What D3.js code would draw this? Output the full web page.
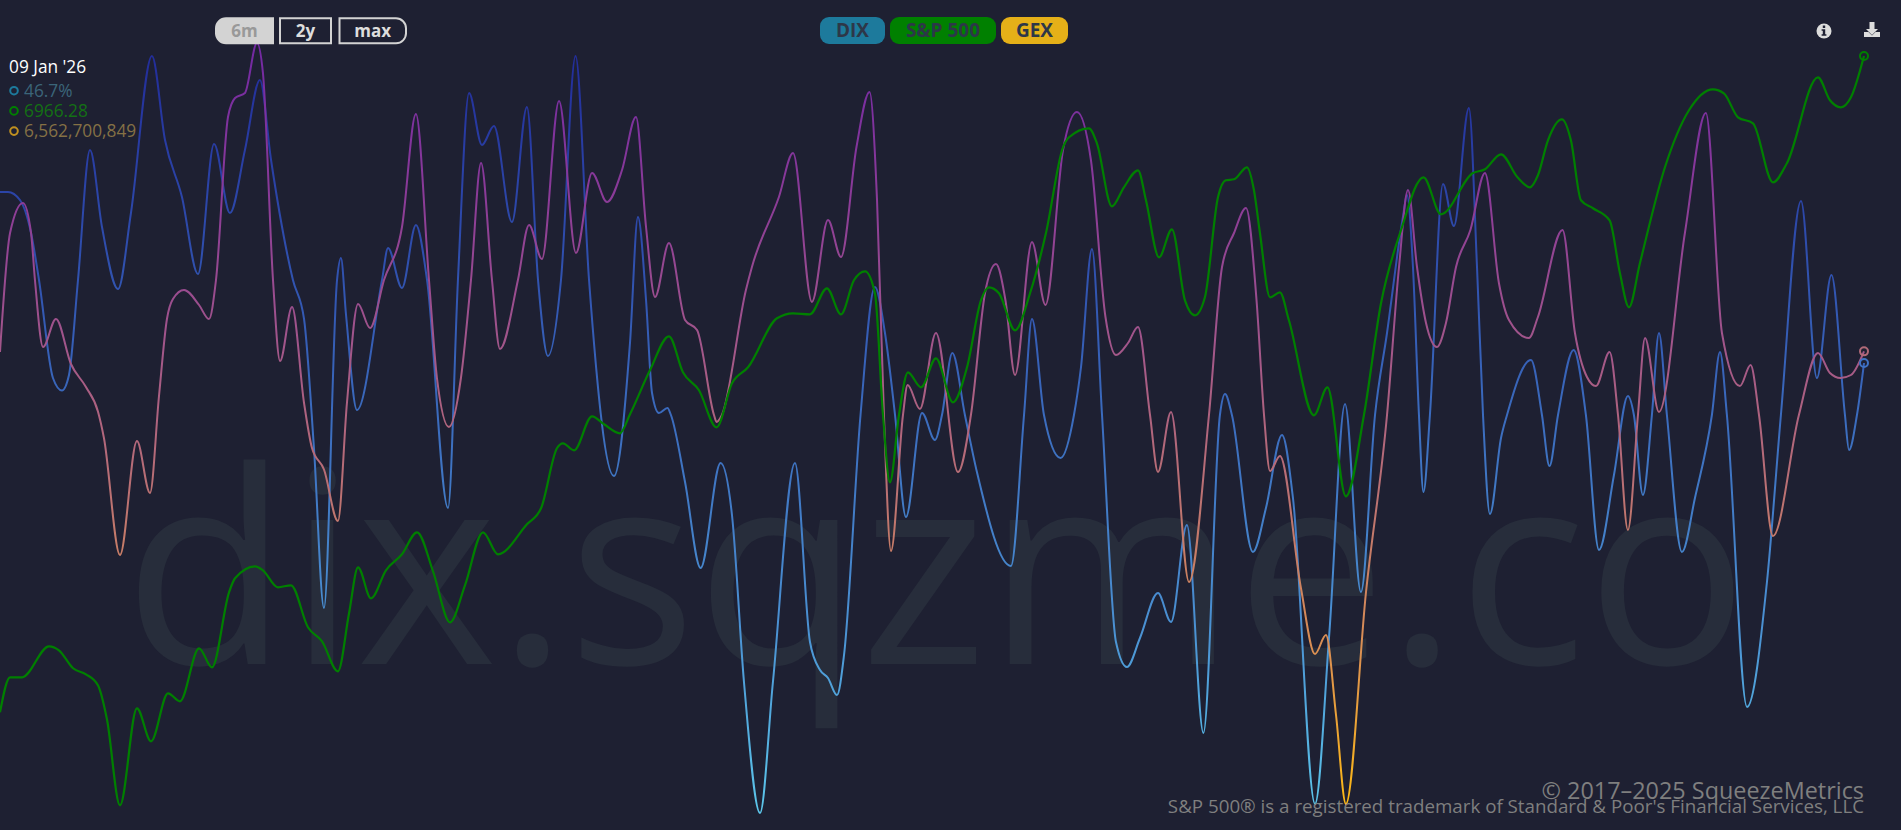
<!DOCTYPE html>
<html><head><meta charset="utf-8">
<script src="https://cdn.jsdelivr.net/npm/d3@7"></script>
<style>
html,body{margin:0;padding:0;background:#1e2032;overflow:hidden}
svg{display:block;font-family:"Open Sans",sans-serif}
</style></head><body><div id="chart"></div>
<script>
// [trading session since start of window, value]
const spx=[[0,6310],[.67,6345],[1.47,6345],[3.27,6376],[3.93,6372],[4.87,6354],[5.73,6348],[6.53,6337],[7.13,6303],[8,6217],[9.13,6314],[10.07,6281],[11.2,6329],[12,6321],[13.27,6374],[14.13,6355],[15.27,6430],[15.67,6444],[17,6456],[17.53,6452],[18.53,6435],[19.4,6437],[20.53,6395],[21.47,6381],[22.53,6351],[23.27,6409],[23.87,6455],[24.73,6424],[25.73,6452],[26.8,6468],[27.8,6490],[28.87,6451],[30,6400],[31,6437],[32.2,6490],[33.2,6468],[35.13,6498],[36.07,6514],[37.13,6574],[37.53,6579],[38.27,6572],[39.47,6606],[40.27,6598],[41.33,6589],[42,6608],[43.33,6652],[44.6,6686],[45.53,6650],[46.6,6632],[47.77,6595],[48.8,6639],[49.87,6655],[51.8,6704],[52.87,6709],[54,6708],[55.13,6734],[56.07,6708],[56.93,6742],[57.67,6751],[58.33,6729],[58.87,6607],[59.33,6540],[59.93,6607],[60.53,6650],[61.4,6635],[62.4,6664],[63.53,6620],[64.47,6655],[65.4,6722],[65.93,6735],[66.6,6729],[67.67,6692],[68.67,6729],[69.73,6789],[70.87,6875],[71.27,6885],[72.6,6894],[73.13,6879],[74.13,6816],[74.93,6835],[75.87,6852],[76.4,6822],[77.27,6765],[78.13,6793],[79,6722],[79.67,6707],[80.33,6725],[81.2,6825],[81.73,6842],[82.27,6843],[83.13,6855],[83.6,6832],[84,6789],[84.67,6725],[85.33,6730],[85.93,6702],[87.6,6607],[88.5,6635],[89.73,6526],[90.93,6607],[92.07,6719],[93.4,6792],[94.9,6845],[96.07,6808],[98.17,6849],[99,6853],[100.07,6868],[101.17,6845],[102,6835],[102.53,6847],[103.2,6882],[104.13,6903],[104.73,6882],[105.4,6822],[106.2,6814],[107.31,6802],[108,6749],[108.6,6715],[109.33,6759],[111,6855],[112.6,6912],[114.2,6933],[114.93,6929],[115.87,6905],[116.87,6899],[118.2,6840],[119.13,6859],[121.2,6945],[122,6922],[122.73,6915],[123.4,6925],[124.27,6966.28]];
const gex=[[0,6.55],[.67,8.93],[1.53,9.53],[2.07,8.93],[2.33,7.99],[2.87,6.65],[3.73,7.21],[4.73,6.31],[5.73,5.85],[6.53,5.36],[6.93,4.83],[8,2.49],[9.13,4.77],[10,3.73],[10.6,5.67],[11.13,7.21],[11.53,7.61],[12.27,7.79],[13.27,7.49],[13.93,7.21],[14.4,7.99],[15.2,11.25],[15.67,11.63],[16.33,11.73],[17.13,12.73],[17.53,12.13],[18.2,7.99],[18.67,6.37],[19.47,7.45],[20.27,5.53],[20.8,4.63],[21.6,4.2],[22.53,3.17],[23.13,5.53],[23.87,7.51],[24.67,7.03],[25.6,7.99],[26.8,9.05],[27.73,11.31],[28.6,7.99],[29.13,6.03],[29.93,5.05],[30.73,6.03],[31.4,7.99],[32.07,10.33],[32.8,7.99],[33.33,6.61],[34.53,7.99],[35.27,9.09],[36.13,8.41],[37.27,11.57],[38.4,8.53],[39.47,10.13],[40.47,9.55],[41.47,10.19],[42.4,11.25],[43.07,9.05],[43.67,7.65],[44.6,8.73],[45.67,7.19],[46.47,6.99],[47.6,5.29],[47.77,5.15],[48.13,5.29],[49.73,7.79],[50.13,8.25],[51.93,9.65],[52.87,10.53],[54.13,7.55],[55.2,9.19],[56.07,8.45],[57.1,10.65],[57.97,11.75],[58.47,9.59],[58.93,5.29],[59.4,2.57],[60.2,5.29],[60.51,5.89],[61.33,5.41],[62.4,6.93],[63.87,4.15],[64.73,5.29],[65.67,7.73],[66.4,8.31],[67.03,7.59],[67.67,6.09],[68.8,8.75],[69.7,7.49],[70.87,10.59],[71.8,11.35],[72.73,10.39],[73.7,7.25],[74.4,6.49],[75.2,6.73],[75.87,7.05],[76.67,5.29],[77.2,4.15],[78.07,5.35],[79.27,1.95],[80.6,5.29],[81.47,8.25],[82.27,8.93],[83.07,9.43],[83.77,7.59],[84.27,5.29],[84.67,4.17],[85.33,4.47],[86.73,1.83],[87.67,.51],[88.4,.89],[89.07,-.71],[89.73,-2.49],[91.07,1.75],[92.47,5.29],[93.27,8.25],[93.87,9.79],[94.47,8.25],[95.07,7.13],[95.8,6.65],[96.4,7.13],[97.07,8.25],[98.03,8.99],[99,10.13],[99.93,7.93],[100.6,7.19],[101.93,6.83],[102.53,7.25],[104.17,8.99],[105,6.93],[105.8,6.05],[106.4,5.87],[107.31,6.55],[107.87,5.29],[108.53,2.99],[109.2,5.29],[109.67,6.83],[110.6,5.35],[112.33,8.93],[113.73,11.33],[114.8,6.93],[116,5.87],[116.71,6.29],[117.27,5.29],[118.2,2.87],[119.93,5.29],[121.2,6.53],[122,6.13],[122.7,6.03],[123.4,6.09],[124.27,6.5627]];
const dix=[[0,50.12],[.53,50.12],[1.33,49.96],[2.07,49.3],[2.6,48.36],[3.53,46.4],[4.13,46.15],[4.6,46.46],[5.2,48.36],[6,50.96],[6.8,49.42],[7.87,48.18],[8.73,49.7],[10.13,52.84],[11,51.16],[12.13,50.02],[13.2,48.48],[14.27,51.08],[15.33,49.7],[16.33,50.96],[17.33,52.36],[18.07,50.76],[19.53,48.36],[20.27,47.58],[20.93,45],[21.6,41.8],[22.47,48.36],[22.73,48.8],[23.07,47.66],[23.8,45.76],[25.47,48.36],[25.87,49],[26.8,48.2],[27.73,49.46],[28.47,48.36],[29.87,43.8],[30.53,48.36],[31.27,52.1],[32.13,51.06],[32.93,51.44],[34.13,49.52],[35.13,51.82],[35.87,48.36],[36.53,46.84],[37.4,48.36],[38.37,52.84],[39.27,48.36],[40.93,44.44],[42,47.1],[42.53,49.62],[43.07,47.96],[43.47,46.1],[43.93,45.7],[44.5,45.8],[44.73,45.66],[45.67,44.32],[46.71,42.6],[48.04,44.7],[48.8,43.66],[49.6,40.32],[50.67,37.7],[51.53,40.32],[53,44.7],[54,41.12],[54.67,40.56],[55.2,40.4],[55.8,40.06],[56.27,40.86],[57.37,45.66],[58.33,48.22],[59,47.3],[59.67,45.66],[60.4,43.62],[61.47,45.7],[62.33,45.16],[62.8,45.66],[63.49,46.9],[64.33,45.66],[65.13,44.52],[67.4,42.64],[68.27,45.66],[68.8,47.58],[69.6,45.66],[70.71,44.8],[71.6,45.66],[72.07,46.62],[72.8,48.98],[73.47,45.66],[74.4,41.12],[75.13,40.62],[76,41.2],[77.2,42.1],[78.07,41.52],[79.13,43.46],[80.23,39.3],[81.33,45.66],[81.67,46.08],[82.13,45.66],[83.53,42.92],[84.4,43.8],[85.47,45.26],[86.2,44],[87.67,37.88],[88.63,41.32],[89.67,45.88],[90.73,42.12],[91.67,45.66],[92.47,47.3],[93.53,49.62],[93.8,50.06],[94.2,48.62],[94.6,45.66],[94.9,44.12],[95.33,45.66],[96.2,50.28],[96.93,49.44],[97.93,51.8],[98.47,48.62],[98.87,45.66],[99.33,43.68],[100.07,45.2],[100.47,45.66],[102.07,46.76],[102.8,45.66],[103.3,44.64],[103.87,45.66],[104.91,46.96],[105.73,45.66],[106.6,42.96],[107.6,44.46],[108.53,46.04],[108.93,45.66],[109.53,44.06],[110.13,45.66],[110.6,47.3],[111.13,45.66],[112.13,42.92],[113,44],[114.13,45.66],[114.67,46.92],[115.13,45.66],[116.47,39.82],[117.8,42.32],[118.73,45.66],[120.07,49.94],[121.13,46.4],[122.1,48.46],[123,45.66],[123.27,44.96],[123.8,45.66],[124.27,46.7]];
const rangeLabels=["6m","2y","max"];
const seriesLabels=["DIX","S&P 500","GEX"];
const readoutDate="09 Jan '26";
const readoutValues=["46.7%","6966.28","6,562,700,849"];
const dixStops=["#222c9a","#2e4cac","#3c6ebf","#4a90d2","#5cc6ea"];
const gexStops=["#7228a4","#8a3a98","#a2568a","#bc7272","#dc9052","#fdb914"];

const W=1901,H=830;
const svg=d3.select("#chart").append("svg").attr("width",W).attr("height",H);
const defs=svg.append("defs");
const x=d3.scaleLinear().domain([0,124.27]).range([0,1864]);
const yDix=d3.scaleLinear().domain([53.96,37.36]).range([0,H]);
const yGex=d3.scaleLinear().domain([13.59,-3.01]).range([0,H]);
const ySpx=d3.scaleLinear().domain([7022.28,6192.28]).range([0,H]);

function grad(id,stops,y1,y2){
  const g=defs.append("linearGradient").attr("id",id).attr("gradientUnits","userSpaceOnUse")
    .attr("x1",0).attr("x2",0).attr("y1",y1).attr("y2",y2);
  stops.forEach((c,i)=>g.append("stop").attr("offset",i/(stops.length-1)).attr("stop-color",c));
}
grad("gDix",dixStops,50,815);
grad("gGex",gexStops,40,805);

svg.append("text").attr("x",936).attr("y",664).attr("text-anchor","middle")
  .attr("font-size",269).attr("fill","#272d3b").text("dix.sqzme.co");

const line=y=>d3.line().x(d=>x(d[0])).y(d=>y(d[1])).curve(d3.curveMonotoneX);
[[dix,yDix,"url(#gDix)",2],[gex,yGex,"url(#gGex)",2],[spx,ySpx,"#008000",2.2]].forEach(([data,y,c,w])=>{
  svg.append("path").datum(data).attr("d",line(y)).attr("fill","none").attr("stroke",c).attr("stroke-width",w);
});
[[dix,yDix,"#3f72c4"],[gex,yGex,"#b06a78"],[spx,ySpx,"#008000"]].forEach(([data,y,c])=>{
  const d=data[data.length-1];
  svg.append("circle").attr("cx",x(d[0])).attr("cy",y(d[1])).attr("r",4).attr("fill","none").attr("stroke",c).attr("stroke-width",2);
});

// range buttons
const btn=[[216,57],[280,51],[339.5,66.5]];
const rr=(bx,w,l,r)=>{const y0=18.3,h=25,a=10;
  return `M${bx+(l?a:0)},${y0}H${bx+w-(r?a:0)}${r?`A${a},${a} 0 0 1 ${bx+w},${y0+a}V${y0+h-a}A${a},${a} 0 0 1 ${bx+w-a},${y0+h}`:`V${y0+h}`}H${bx+(l?a:0)}${l?`A${a},${a} 0 0 1 ${bx},${y0+h-a}V${y0+a}A${a},${a} 0 0 1 ${bx+a},${y0}`:`V${y0}`}Z`;};
rangeLabels.forEach((t,i)=>{
  const [bx,w]=btn[i];
  svg.append("path").attr("d",rr(bx,w,i==0,i==2)).attr("fill",i==0?"#d3d3d3":"none").attr("stroke","#d3d3d3").attr("stroke-width",2);
  svg.append("text").attr("x",bx+w/2).attr("y",36.7).attr("text-anchor","middle").attr("font-weight",700).attr("font-size",17)
    .attr("fill",i==0?"#999":"#ddd").text(t);
});
// series toggles
const chips=[[820,65,"#1d7a9c"],[890,106,"#008000"],[1001,67,"#e5b018"]];
seriesLabels.forEach((t,i)=>{
  const [bx,w,c]=chips[i];
  svg.append("rect").attr("x",bx).attr("y",17).attr("width",w).attr("height",27).attr("rx",9).attr("fill",c);
  svg.append("text").attr("x",bx+w/2).attr("y",37.4).attr("text-anchor","middle").attr("font-weight",700).attr("font-size",19)
    .attr("fill","#2d3748").text(t);
});
// readout
svg.append("text").attr("x",9).attr("y",73).attr("font-size",17.3).attr("fill","#fff").text(readoutDate);
const rc=[["#1d7a9c","#3b6579"],["#008000","#147014"],["#c09020","#857145"]];
readoutValues.forEach((t,i)=>{
  const yy=90.7+i*20.2;
  svg.append("circle").attr("cx",14).attr("cy",yy).attr("r",3.8).attr("fill","none").attr("stroke",rc[i][0]).attr("stroke-width",2);
  svg.append("text").attr("x",24).attr("y",yy+6).attr("font-size",17.3).attr("fill",rc[i][1]).text(t);
});
// icons
svg.append("circle").attr("cx",1824).attr("cy",31).attr("r",7.5).attr("fill","#ddd");
svg.append("path").attr("d","M1822.8,25.5h2.4v2.4h-2.4zM1821.6,29.2h3.6v5h1.2v1.6h-4.8v-1.6h1.2v-3.4h-1.2z").attr("fill","#1e2032");
svg.append("path").attr("d","M1869.5,22h5v7h3.5l-6,6l-6,-6h3.5z").attr("fill","#ddd");
svg.append("path").attr("d","M1864,32h4.5l3.5,3.6l3.5,-3.6h4.5v5h-16z").attr("fill","#ddd");
// footer
svg.append("text").attr("x",1864).attr("y",798.5).attr("text-anchor","end").attr("font-size",23.4).attr("fill","#7f7f7f").text("© 2017–2025 SqueezeMetrics");
svg.append("text").attr("x",1864).attr("y",813).attr("text-anchor","end").attr("font-size",18.75).attr("fill","#7f7f7f").text("S&P 500® is a registered trademark of Standard & Poor's Financial Services, LLC");
</script></body></html>
